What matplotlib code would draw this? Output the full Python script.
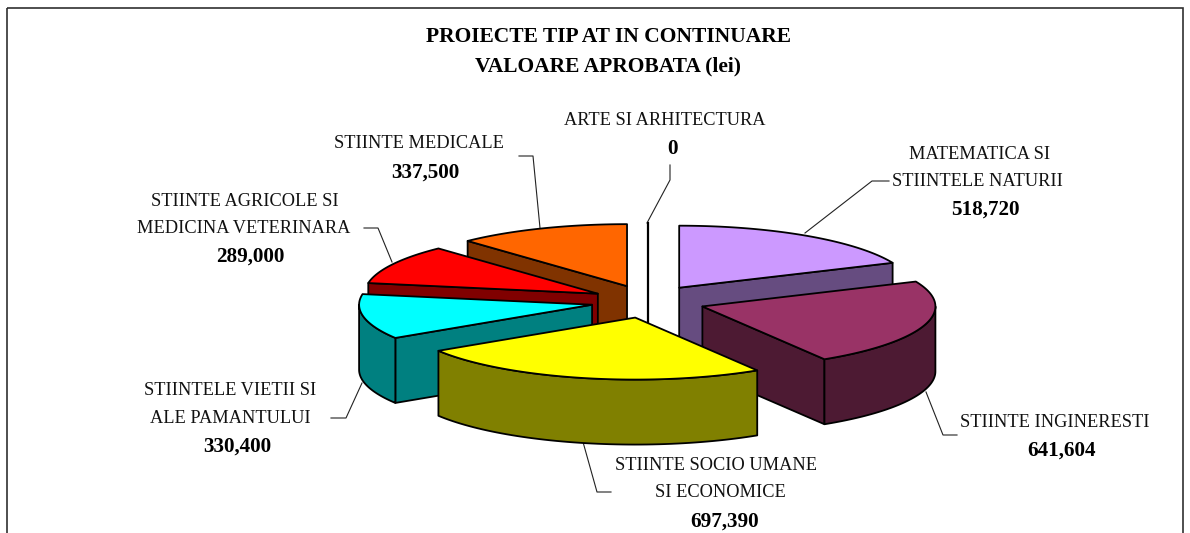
"""
Exploded 3D pie, PROIECTE TIP AT IN CONTINUARE
matplotlib has no real 3D pie so slices are projected by hand from the values
"""
import numpy as np
import matplotlib
matplotlib.use('Agg')
import matplotlib.pyplot as plt
from matplotlib.patches import Polygon, Rectangle

plt.rcParams['font.family'] = ['Liberation Serif', 'DejaVu Serif']

# Data, clockwise from 12 o'clock
categories = ['MATEMATICA SI\nSTIINTELE NATURII', 'STIINTE INGINERESTI',
              'STIINTE SOCIO UMANE\nSI ECONOMICE', 'STIINTELE VIETII SI\nALE PAMANTULUI',
              'STIINTE AGRICOLE SI\nMEDICINA VETERINARA', 'STIINTE MEDICALE',
              'ARTE SI ARHITECTURA']
values = [518720, 641604, 697390, 330400, 289000, 337500, 0]
top_colors = ['#CC99FF', '#993366', '#FFFF00', '#00FFFF', '#FF0000', '#FF6600', '#FFFFFF']
side_colors = ['#664C80', '#4D1A33', '#808000', '#008080', '#800000', '#803300', '#808080']

# Pie geometry in pixels
cx, cy = 648, 301.5
rx, ry = 233, 62
depth = 65
explode_x, explode_y = 57, 16.5

fig = plt.figure(figsize=(11.9, 5.33), dpi=100)
ax = fig.add_axes([0, 0, 1, 1])
ax.set_xlim(0, 1190)
ax.set_ylim(533, 0)
ax.axis('off')

# Chart frame, bottom runs off the image
ax.add_patch(Rectangle((6.5, 7.5), 1176.5, 540, fill=False, edgecolor='#303030', lw=1.2, zorder=0))

# Slice angles
fractions = np.array(values) / sum(values)
ends = np.cumsum(fractions) * 2 * np.pi
starts = ends - fractions * 2 * np.pi


def rim(x0, y0, t):
    return np.column_stack([x0 + rx * np.sin(t), y0 - ry * np.cos(t)])


def draw_slice(i, z):
    t1, t2 = starts[i], ends[i]
    mid = (t1 + t2) / 2
    x0 = cx + explode_x * np.sin(mid)
    y0 = cy - explode_y * np.cos(mid)
    kw = dict(edgecolor='black', lw=1.3, joinstyle='round', zorder=z)
    apex = np.array([x0, y0])

    if values[i] == 0:
        # zero slice is only a thin upright sheet
        p = rim(x0, y0, np.array([t1]))[0]
        ax.plot([x0, x0], [p[1], y0 + depth - 27], color='black', lw=1.6, zorder=z)
        return

    # radial faces that look towards the viewer
    for t, visible in ((t1, np.sin(t1) < -1e-6), (t2, np.sin(t2) > 1e-6)):
        if visible:
            p = rim(x0, y0, np.array([t]))[0]
            quad = np.array([apex, p, p + [0, depth], apex + [0, depth]])
            ax.add_patch(Polygon(quad, facecolor=side_colors[i], **kw))

    # outer wall, only the front half of the rim
    a, b = max(t1, np.pi / 2), min(t2, 3 * np.pi / 2)
    if b > a:
        arc = rim(x0, y0, np.linspace(a, b, 60))
        wall = np.vstack([arc, arc[::-1] + [0, depth]])
        ax.add_patch(Polygon(wall, facecolor=side_colors[i], **kw))

    # top face
    arc = rim(x0, y0, np.linspace(t1, t2, 80))
    ax.add_patch(Polygon(np.vstack([apex, arc]), facecolor=top_colors[i], **kw))


# Paint from the back to the front
order = np.argsort([-np.cos((s + e) / 2) for s, e in zip(starts, ends)])
for z, i in enumerate(order):
    draw_slice(i, z + 2)

# Leader lines
leaders = [
    ([889, 872, 805], [181, 181, 233]),
    ([957, 943, 926], [435, 435, 392]),
    ([611, 597, 583], [492, 492, 442]),
    ([331, 346, 362], [418, 418, 383]),
    ([364, 378, 392], [228, 228, 262]),
    ([519, 533, 540], [156, 156, 228]),
    ([670, 670, 647], [165, 180, 223]),
]
for lx, ly in leaders:
    ax.plot(lx, ly, color='#222222', lw=0.8, zorder=1)

# Labels: name lines then the bold value
name_x = [[980, 977], [1055], [716, 720], [230, 230], [245, 244], [419], [665]]
name_y = [[154.5, 181.5], [422.5], [465.5, 492.5], [390.5, 418.5], [201.5, 228.5], [143.5], [120.5]]
value_x = [985, 1062, 725, 237, 250, 425, 673]
value_y = [210, 451, 522, 447, 257, 173, 149]

for i, cat in enumerate(categories):
    for line, x, y in zip(cat.split('\n'), name_x[i], name_y[i]):
        ax.text(x, y, line, ha='center', va='center', fontsize=13.2, color='#111111', zorder=20)
    ax.text(value_x[i], value_y[i], f'{values[i]:,}', ha='center', va='center',
            fontsize=15.2, fontweight='bold', color='black', zorder=20)

# Title
ax.text(608, 37, 'PROIECTE TIP AT IN CONTINUARE', ha='center', va='center',
        fontsize=15.5, fontweight='bold', color='black')
ax.text(608, 66, 'VALOARE APROBATA (lei)', ha='center', va='center',
        fontsize=15.5, fontweight='bold', color='black')

plt.savefig('out.png', dpi=100, facecolor='white')
